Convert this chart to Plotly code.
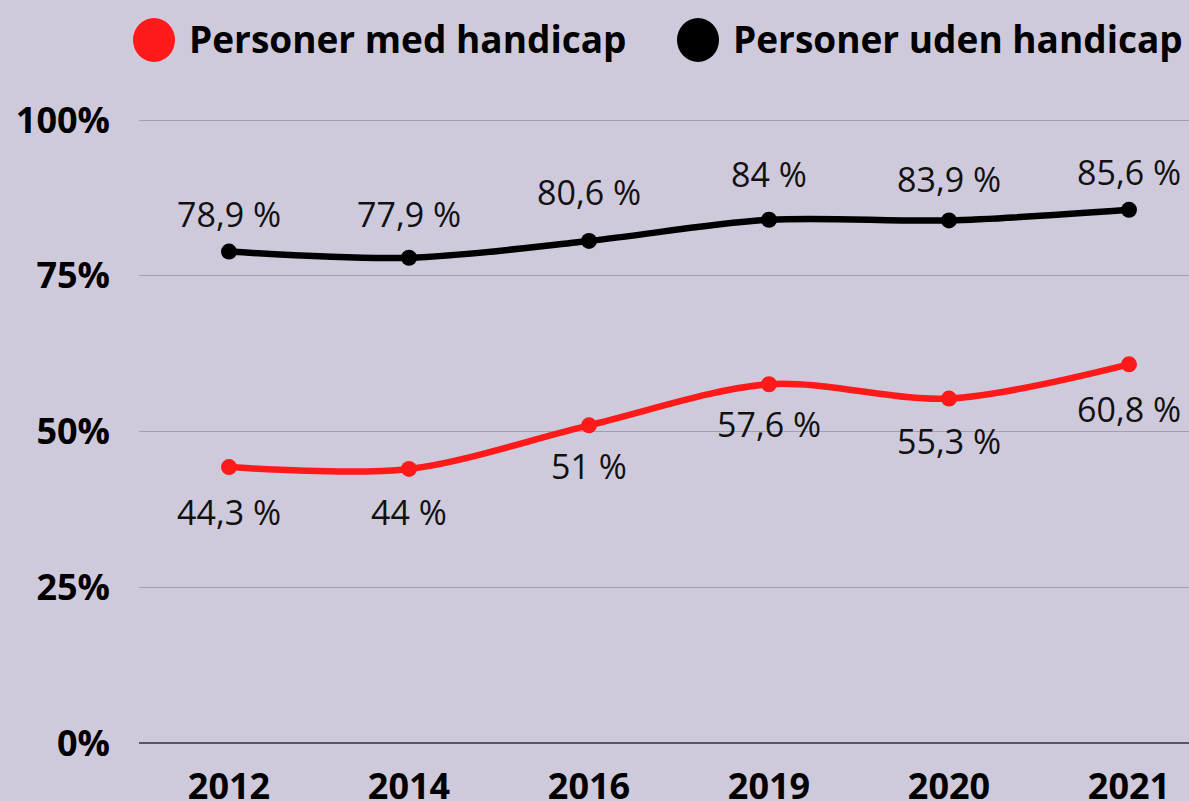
import plotly.graph_objects as go

years = ["2012", "2014", "2016", "2019", "2020", "2021"]
med_handicap = [44.3, 44.0, 51.0, 57.6, 55.3, 60.8]
uden_handicap = [78.9, 77.9, 80.6, 84.0, 83.9, 85.6]
name_med = "Personer med handicap"
name_uden = "Personer uden handicap"
y_ticks = [0, 25, 50, 75, 100]

# label offsets in pixels (style only)
shift_med = [-45, -43, -41, -40, -42, -45]
shift_uden = [38, 44, 49, 46, 41, 38]

RED = "#ff1a1a"
BLACK = "#000000"
BG = "#cfcadb"

W, H = 1189, 801
L, R, T, B = 139, 0, 117, 58
PW, PH = W - L - R, H - T - B


def px_x(p):
    return (p - L) / PW


def px_y(p):
    return (H - B - p) / PH


def fmt(v):
    s = ("%.1f" % v).rstrip("0").rstrip(".")
    return s.replace(".", ",") + " %"


fig = go.Figure()
for name, vals, col in [(name_med, med_handicap, RED), (name_uden, uden_handicap, BLACK)]:
    fig.add_trace(go.Scatter(
        x=years, y=vals, name=name, mode="lines+markers",
        line=dict(color=col, width=6.5, shape="spline", smoothing=0.9),
        marker=dict(color=col, size=16),
        cliponaxis=False, showlegend=False,
    ))

annotations = []
for vals, shifts in [(med_handicap, shift_med), (uden_handicap, shift_uden)]:
    for i, (v, s) in enumerate(zip(vals, shifts)):
        # category axis: annotation x is the category index
        annotations.append(dict(
            x=i, y=v, xref="x", yref="y", text=fmt(v), showarrow=False,
            xanchor="center", yanchor="middle", yshift=s,
            font=dict(family="Open Sans", size=34, color="#111111"),
        ))

# custom legend
shapes = []
for cx, tx, col, name in [(154, 187, RED, name_med), (698, 731, BLACK, name_uden)]:
    shapes.append(dict(
        type="circle", xref="paper", yref="paper",
        xsizemode="pixel", ysizemode="pixel",
        xanchor=px_x(cx), yanchor=px_y(40),
        x0=-21, x1=21, y0=-22, y1=22,
        fillcolor=col, line=dict(width=0),
    ))
    annotations.append(dict(
        xref="paper", yref="paper", x=px_x(tx), y=px_y(38),
        xanchor="left", yanchor="middle", showarrow=False,
        text="<b>%s</b>" % name,
        font=dict(family="Open Sans", size=37, color="#000000"),
    ))

fig.update_layout(
    width=W, height=H,
    margin=dict(l=L, r=R, t=T, b=B, pad=0, autoexpand=False),
    paper_bgcolor=BG, plot_bgcolor=BG,
    shapes=shapes, annotations=annotations,
    font=dict(family="Open Sans", color="#000000"),
)
fig.update_xaxes(
    type="category", range=[-0.5, 5.3333], automargin=False,
    showgrid=False, zeroline=False, showline=False,
    tickfont=dict(family="Open Sans", size=36, color="#000000", weight="bold"),
    ticklabelstandoff=19,
)
fig.update_yaxes(
    range=[0, 100.5], tickvals=y_ticks, ticktext=["%d%%" % v for v in y_ticks],
    automargin=False,
    showgrid=True, gridcolor="#a39fac", gridwidth=1,
    zeroline=True, zerolinecolor="#5a5662", zerolinewidth=1.5,
    showline=False,
    tickfont=dict(family="Open Sans", size=36, color="#000000", weight="bold"),
    ticklabelstandoff=28,
)

fig.write_html(
    "out.html",
    config={"displayModeBar": False},
    post_script="document.body.style.margin='0';document.body.style.overflow='hidden';",
)
